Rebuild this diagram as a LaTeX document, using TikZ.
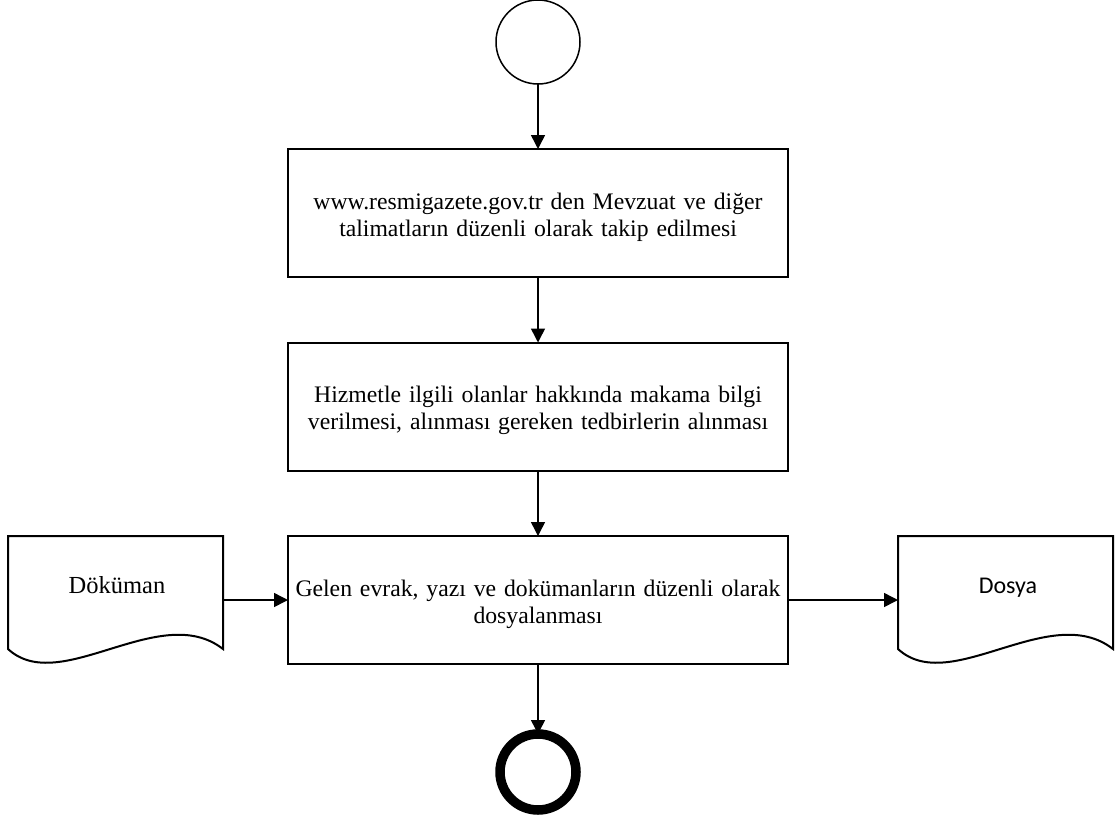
\documentclass[tikz,border=0pt]{standalone}
\usepackage{fontspec}
\setmainfont{Liberation Serif}
\newfontfamily\docsans{Carlito}
\usetikzlibrary{arrows.meta,calc}
\begin{document}
\begin{tikzpicture}[x=1pt,y=-1pt,
  every node/.style={inner sep=0pt,outer sep=0pt},
  flow/.style={-{Triangle[length=14pt,width=14pt]},line width=1.5pt},
  procbox/.style={draw,line width=2pt,minimum width=500pt,minimum height=128pt,
    text width=490pt,align=center,text height=23pt,text depth=31pt,
    font=\fontsize{23.7}{27}\selectfont},
  docbox/.style={minimum width=215pt,minimum height=113pt},
  outline/.style={line width=2pt,line join=miter}]
\useasboundingbox (0,0) rectangle (1116,825);
% start and end events
\node[circle,draw,line width=1.5pt,minimum size=84pt] (start) at (538,42) {};
\node[circle,draw,line width=9.5pt,minimum size=76pt] (end) at (538,772) {};
% process steps
\node[procbox] (b1) at (538,213) {www.resmigazete.gov.tr den Mevzuat ve diğer\\talimatların düzenli olarak takip edilmesi};
\node[procbox] (b2) at (538,406.5) {Hizmetle ilgili olanlar hakkında makama bilgi\\verilmesi, alınması gereken tedbirlerin alınması};
\node[procbox] (b3) at (538,600) {Gelen evrak, yazı ve dokümanların düzenli olarak\\dosyalanması};
% documents
\node[docbox] (d1) at (115.5,592.5) {};
\node[docbox] (d2) at (1005.5,592.5) {};
\node[font=\fontsize{24.5}{26}\selectfont,anchor=base] (t1) at (117,593) {Döküman};
\node[font=\docsans\fontsize{24}{26}\selectfont,anchor=base] (t2) at (1008,593) {Dosya};
\foreach \d in {d1,d2}{
  \draw[outline] (\d.south west) -- (\d.north west) -- (\d.north east) -- (\d.south east)
    .. controls ($(\d.south east)+(-63,-49)$) and ($(\d.south west)+(52,48)$) .. (\d.south west) -- cycle;
}
% connectors
\draw[flow] (start) -- (b1);
\draw[flow] (b1) -- (b2);
\draw[flow] (b2) -- (b3);
\draw[flow] (b3) -- (end);
\draw[flow] (d1.east |- b3.west) -- (b3.west);
\draw[flow] (b3.east) -- (d2.west |- b3.east);
\end{tikzpicture}
\end{document}
